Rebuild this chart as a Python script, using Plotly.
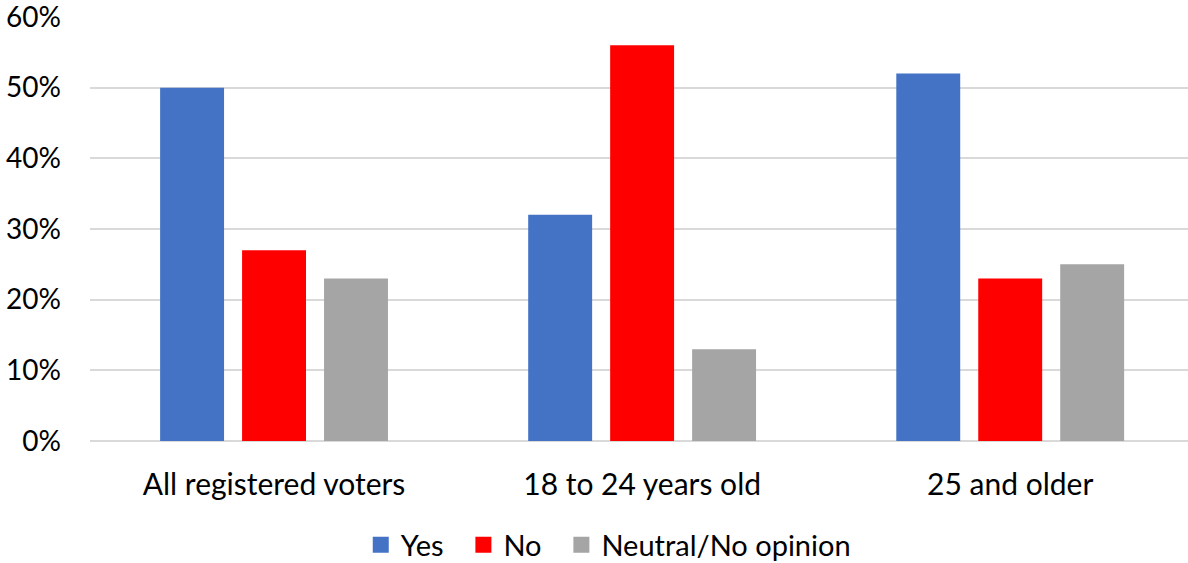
import plotly.graph_objects as go

categories = ["All registered voters", "18 to 24 years old", "25 and older"]
yes_vals = [0.50, 0.32, 0.52]
no_vals = [0.27, 0.56, 0.23]
neutral_vals = [0.23, 0.13, 0.25]
series_names = ["Yes", "No", "Neutral/No opinion"]
colors = ["#4472C4", "#FF0000", "#A5A5A5"]
y_ticks = [0, 0.1, 0.2, 0.3, 0.4, 0.5, 0.6]

fig = go.Figure()
for name, vals, c in zip(series_names, [yes_vals, no_vals, neutral_vals], colors):
    fig.add_trace(go.Bar(name=name, x=categories, y=vals, marker_color=c,
                         marker_line_width=0, showlegend=False, legendgroup=name))
for i, (name, c) in enumerate(zip(series_names, colors)):
    label = name + ("\u00a0\u00a0" if i < len(series_names) - 1 else "")
    fig.add_trace(go.Scatter(name=label, x=[None], y=[None], mode="markers",
                             marker=dict(symbol="square", size=18, color=c),
                             showlegend=True, legendgroup=name))

font_family = "Lato, Open Sans, sans-serif"
fig.update_layout(
    width=1188, height=563,
    barmode="group", bargap=0.332, bargroupgap=0.22,
    plot_bgcolor="white", paper_bgcolor="white",
    margin=dict(l=90, r=0, t=17, b=122, autoexpand=False),
    font=dict(family=font_family, size=29, color="#000000"),
    legend=dict(orientation="h", x=0.472, xanchor="center", y=-0.245, yanchor="middle",
                font=dict(size=29), traceorder="normal", itemwidth=30),
    xaxis=dict(range=[-0.5, 2.483], showgrid=False, showline=False, ticks="",
               tickfont=dict(size=30), automargin=False, ticklabelstandoff=23),
    yaxis=dict(range=[0, 0.6], tickvals=y_ticks, tickformat=".0%",
               showgrid=True, gridcolor="#D9D9D9", gridwidth=1.5,
               zeroline=True, zerolinecolor="#D9D9D9", zerolinewidth=1.5,
               showline=False, ticks="", ticklabelstandoff=28, automargin=False,
               ticklabeloverflow="allow", tickfont=dict(size=28)),
)
fig.write_html("out.html", config={"displayModeBar": False},
               post_script="document.body.style.margin='0';document.body.style.overflow='hidden';")
